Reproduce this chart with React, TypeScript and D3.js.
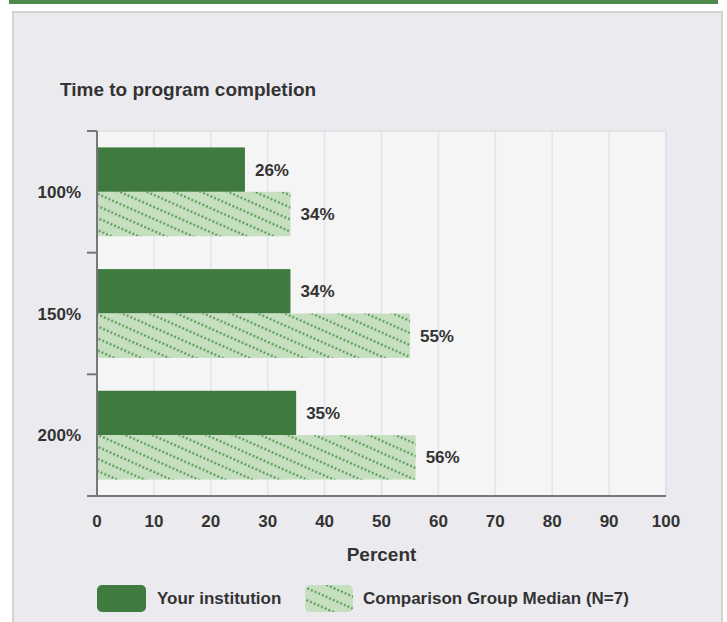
import React from 'react';
import * as d3 from 'd3';

const categories = ['100%', '150%', '200%'];
const institution = [26, 34, 35];
const comparison = [34, 55, 56];
const xTicks = [0, 10, 20, 30, 40, 50, 60, 70, 80, 90, 100];
const seriesNames = ['Your institution', 'Comparison Group Median (N=7)'];

const font = '"Liberation Sans", Arial, sans-serif';
const dark = '#3f7a3f';
const light = '#c6dfc1';
const text = '#333';

const App = () => {
  const width = 727;
  const height = 622;
  const plot = { left: 97, right: 666, top: 131, bottom: 496 };

  const x = d3.scaleLinear().domain([0, 100]).range([plot.left, plot.right]);
  const y = d3
    .scaleBand()
    .domain(categories)
    .range([plot.top, plot.bottom])
    .paddingInner(0.27)
    .paddingOuter(0.135);
  const inner = d3.scaleBand().domain(['a', 'b']).range([0, y.bandwidth()]);
  const step = y.step();
  const boundaries = d3.range(categories.length + 1).map(i => plot.top + i * step);

  return (
    <svg
      width={width}
      height={height}
      style={{ position: 'absolute', left: 0, top: 0, fontFamily: font }}
    >
      <defs>
        <pattern
          id="hatch"
          patternUnits="userSpaceOnUse"
          width={12}
          height={11}
          patternTransform="rotate(24)"
        >
          <rect width={12} height={11} fill={light} />
          <line
            x1={0}
            y1={5.5}
            x2={12}
            y2={5.5}
            stroke="#4c944a"
            strokeWidth={2.2}
            strokeDasharray="2,2"
          />
        </pattern>
      </defs>

      <rect x={9} y={0} width={709} height={4} fill="#4e8a4c" />
      <rect x={13} y={12} width={709} height={616} fill="#ebebef" stroke="#d3d3d3" strokeWidth={2} />

      <text x={60} y={96} fontSize={19} fontWeight="bold" fill={text}>
        Time to program completion
      </text>

      <rect
        x={plot.left}
        y={plot.top}
        width={plot.right - plot.left}
        height={plot.bottom - plot.top}
        fill="#f5f5f5"
        stroke="#d8d8d8"
        strokeWidth={1}
      />
      {xTicks.slice(1).map(t => (
        <line key={t} x1={x(t)} x2={x(t)} y1={plot.top} y2={plot.bottom} stroke="#dde5f0" strokeWidth={1.5} />
      ))}

      {categories.map((c, i) => {
        const y0 = y(c) as number;
        return (
          <g key={c}>
            <rect
              x={x(0)}
              y={y0 + (inner('a') as number)}
              width={x(institution[i]) - x(0)}
              height={inner.bandwidth()}
              fill={dark}
            />
            <rect
              x={x(0)}
              y={y0 + (inner('b') as number)}
              width={x(comparison[i]) - x(0)}
              height={inner.bandwidth()}
              fill="url(#hatch)"
            />
            <text
              x={x(institution[i]) + 10}
              y={y0 + (inner('a') as number) + inner.bandwidth() / 2 + 6}
              fontSize={17}
              fontWeight="bold"
              fill={text}
            >
              {institution[i]}%
            </text>
            <text
              x={x(comparison[i]) + 10}
              y={y0 + (inner('b') as number) + inner.bandwidth() / 2 + 6}
              fontSize={17}
              fontWeight="bold"
              fill={text}
            >
              {comparison[i]}%
            </text>
            <text
              x={81}
              y={y0 + y.bandwidth() / 2 + 6}
              textAnchor="end"
              fontSize={17}
              fontWeight="bold"
              fill={text}
            >
              {c}
            </text>
          </g>
        );
      })}

      {/* axes */}
      <line x1={plot.left} x2={plot.left} y1={plot.top} y2={plot.bottom} stroke="#777" strokeWidth={2} />
      {boundaries.map((b, i) => (
        <line key={i} x1={87} x2={plot.left} y1={b} y2={b} stroke="#777" strokeWidth={2} />
      ))}
      <line x1={87} x2={plot.right} y1={plot.bottom} y2={plot.bottom} stroke="#777" strokeWidth={2} />

      {xTicks.map(t => (
        <text key={t} x={x(t)} y={527} textAnchor="middle" fontSize={17} fontWeight="bold" fill={text}>
          {t}
        </text>
      ))}
      <text x={(plot.left + plot.right) / 2} y={561} textAnchor="middle" fontSize={19} fontWeight="bold" fill={text}>
        Percent
      </text>

      {/* legend */}
      <rect x={97} y={585} width={49} height={27} rx={5} fill={dark} />
      <text x={157} y={604} fontSize={17} fontWeight="bold" fill={text}>
        {seriesNames[0]}
      </text>
      <rect x={305} y={585} width={48} height={27} rx={5} fill="url(#hatch)" />
      <text x={363} y={604} fontSize={17} fontWeight="bold" fill={text}>
        {seriesNames[1]}
      </text>
    </svg>
  );
};

export default App;
